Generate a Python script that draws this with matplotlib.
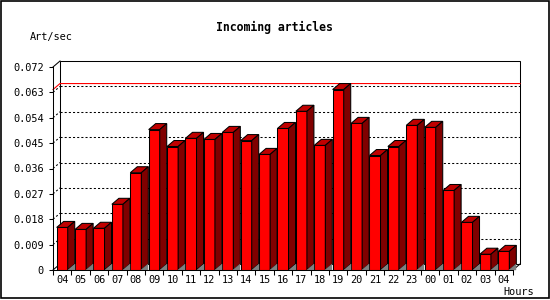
import matplotlib
matplotlib.use("Agg")
import matplotlib.pyplot as plt
from matplotlib.patches import Polygon, Rectangle
from matplotlib.lines import Line2D

hours = ["04", "05", "06", "07", "08", "09", "10", "11", "12", "13", "14", "15", "16",
         "17", "18", "19", "20", "21", "22", "23", "00", "01", "02", "03", "04"]
rates = [0.0151, 0.0144, 0.0148, 0.0233, 0.0345, 0.0498, 0.0438, 0.0467, 0.0463,
         0.0488, 0.0459, 0.0410, 0.0502, 0.0563, 0.0442, 0.0640, 0.0520, 0.0406,
         0.0438, 0.0513, 0.0506, 0.0282, 0.0169, 0.0056, 0.0066]
yticks = [0, 0.009, 0.018, 0.027, 0.036, 0.045, 0.054, 0.063, 0.072]
ytick_labels = ["0", "0.009", "0.018", "0.027", "0.036", "0.045", "0.054", "0.063", "0.072"]
title = "Incoming articles"
ylabel = "Art/sec"
xlabel = "Hours"

W, H = 550, 300
fig = plt.figure(figsize=(W / 100, H / 100), dpi=100)
FONT = "DejaVu Sans Mono"
FS = 7.4

ymax = 0.072
px_per_unit_y = 203 / ymax
dy = 6 / px_per_unit_y
dx = 7 / 18.4
bw = 0.6
n = len(hours)
x0, x1 = -0.5, n - 0.5

left_px, right_px = 53, 520
bottom_px, top_px = 270, 61
ax = fig.add_axes([left_px / W, 1 - bottom_px / H, (right_px - left_px) / W, (bottom_px - top_px) / H])
ax.set_xlim(x0, x1 + dx)
ax.set_ylim(0, ymax + dy)
ax.patch.set_alpha(0)

lw = 0.75
ax.add_patch(Rectangle((x0 + dx, dy), (x1 - x0), ymax, facecolor="white",
                       edgecolor="black", lw=lw, clip_on=False, zorder=0.5))
for v in yticks[1:-1]:
    ax.add_line(Line2D([x0 + dx, x1 + dx], [v + dy, v + dy], color="black", lw=0.75,
                       dashes=(2, 2), zorder=1, clip_on=False))
    ax.add_line(Line2D([x0, x0 + dx], [v, v + dy], color="black", lw=0.75,
                       dashes=(2, 2), zorder=1, clip_on=False))
for (xa, ya) in [(x0, ymax), (x0, 0), (x1, 0)]:
    ax.add_line(Line2D([xa, xa + dx], [ya, ya + dy], color="black", lw=lw, zorder=1, clip_on=False))

m = max(rates)
ax.add_line(Line2D([x0, x0 + dx, x1 + dx], [m, m + dy, m + dy], color="red", lw=0.8,
                   zorder=1.5, clip_on=False))

xs = list(range(n))
ax.bar(xs, rates, width=bw, color="#ff0000", edgecolor="black", lw=lw, zorder=3)
for x, v in zip(xs, rates):
    xl, xr = x - bw / 2, x + bw / 2
    ax.add_patch(Polygon([(xl, v), (xr, v), (xr + dx, v + dy), (xl + dx, v + dy)],
                         closed=True, facecolor="#c00000", edgecolor="black", lw=lw, zorder=3))
    ax.add_patch(Polygon([(xr, 0), (xr + dx, dy), (xr + dx, v + dy), (xr, v)],
                         closed=True, facecolor="#800000", edgecolor="black", lw=lw, zorder=3))
    ax.add_patch(Polygon([(xr, 0), (xr + dx, 0), (xr + dx, dy)],
                         closed=True, facecolor="#808080", edgecolor="#808080", lw=0.3, zorder=3,
                         clip_on=False))

for s in ["top", "right"]:
    ax.spines[s].set_visible(False)
ax.spines["left"].set_bounds(0, ymax)
ax.spines["bottom"].set_bounds(x0, x1)
ax.spines["left"].set_linewidth(lw)
ax.spines["bottom"].set_linewidth(lw)
ax.spines["left"].set_zorder(4)
ax.spines["bottom"].set_zorder(4)

ax.set_yticks(yticks)
ax.set_yticklabels(ytick_labels, fontfamily=FONT, fontsize=FS)
ax.tick_params(axis="y", direction="out", length=3, width=lw, pad=3.5)

ax.set_xticks([i - 0.5 for i in range(n + 1)])
ax.set_xticklabels([])
ax.set_xticks(xs, minor=True)
ax.set_xticklabels(hours, minor=True, fontfamily=FONT, fontsize=FS)
ax.tick_params(axis="x", which="major", direction="out", length=3.5, width=lw)
ax.tick_params(axis="x", which="minor", length=0, pad=3.5)

fig.text(274 / W, 1 - 27 / H, title, ha="center", va="center", fontfamily=FONT,
         fontsize=8.3, fontweight="bold")
fig.text(30 / W, 1 - 37 / H, ylabel, ha="left", va="center", fontfamily=FONT, fontsize=FS)
fig.text(534 / W, 1 - 292 / H, xlabel, ha="right", va="center", fontfamily=FONT, fontsize=FS)

fig.patches.append(Rectangle((0.5 / W, 2.5 / H), 548 / W, 297 / H, transform=fig.transFigure,
                             fill=False, edgecolor="black", lw=1.2))

fig.savefig("out.png", dpi=100)
